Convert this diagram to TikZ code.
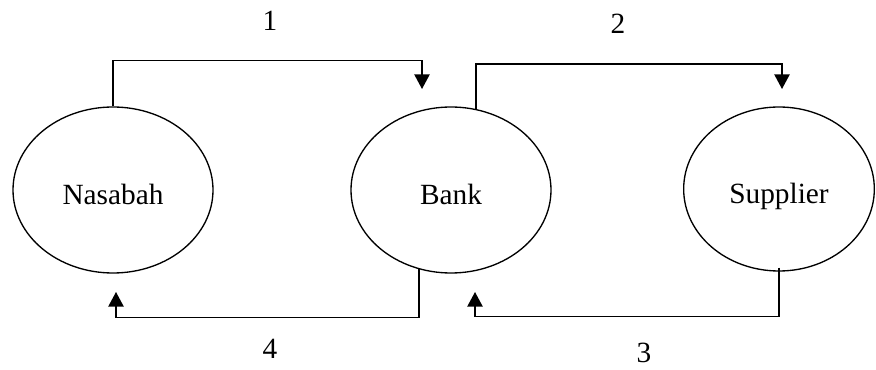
\documentclass[tikz,border=0pt]{standalone}
\usepackage{fontspec}
\setmainfont{Liberation Serif}
\usetikzlibrary{arrows.meta,shapes.geometric,calc}

\begin{document}
\begin{tikzpicture}[x=0.75pt,y=-0.75pt,
  party/.style={draw,ellipse,line width=1pt,inner sep=0pt,minimum width=150pt,minimum height=124.5pt,
    font=\fontsize{22}{26}\selectfont,text height=22.5pt,text depth=0pt},
  num/.style={font=\fontsize{22}{26}\selectfont,inner sep=0pt},
  arr/.style={-{Triangle[width=11.5pt,length=11pt]},line width=1.1pt}]
  \useasboundingbox (0,0) rectangle (876,370);
  % Parties
  \node[party] (nas) at (113,190) {Nasabah};
  \node[party] (bank) at (451,190) {Bank};
  \node[party,minimum width=143pt,minimum height=123pt] (sup) at (779,189) {Supplier};
  % Arrow ends
  \coordinate (t1) at (422,89);
  \coordinate (t2) at (782,89);
  \coordinate (t3) at (475,292);
  \coordinate (t4) at (116,292);
  % 1: Nasabah to Bank
  \draw[arr] (nas.north) -- ++(0,-46) -| (t1);
  % 2: Bank to Supplier
  \draw[arr] (bank.73) -- ++(0,-45) -| (t2);
  % 3: Supplier to Bank
  \draw[arr] ([yshift=3pt]sup.south) -- ++(0,49) -| (t3);
  % 4: Bank to Nasabah
  \draw[arr] (bank.248) -- ++(0,48) -| (t4);
  % Step numbers
  \node[num] (n1) at (270,21) {1};
  \node[num] (n2) at (618,24) {2};
  \node[num] (n3) at (644,353) {3};
  \node[num] (n4) at (270,349) {4};
\end{tikzpicture}
\end{document}
